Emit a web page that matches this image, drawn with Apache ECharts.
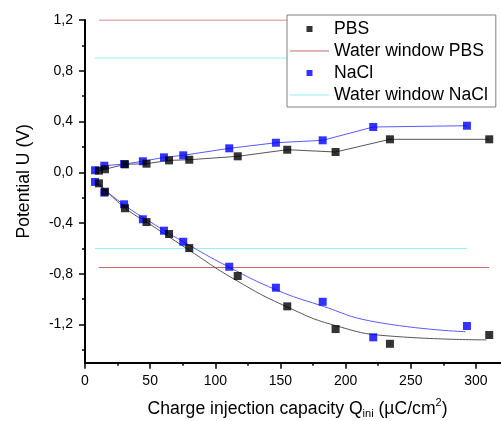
<!DOCTYPE html>
<html><head><meta charset="utf-8">
<script src="https://cdn.jsdelivr.net/npm/echarts@6/dist/echarts.min.js"></script>
<style>html,body{margin:0;padding:0;background:#fff}#c{width:501px;height:421px}</style>
</head><body><div id="c"></div>
<script>
// Measured data (charge injection capacity Q in µC/cm², potential U in V)
const pbsQ = [10.7, 15.3, 30.7, 47.2, 64.5, 80.0, 117.2, 155.2, 192.3, 234.0, 310.2];
const pbsU_anodic = [0.013, 0.024, 0.063, 0.068, 0.094, 0.099, 0.126, 0.178, 0.160, 0.260, 0.260];
const pbsU_cathodic = [-0.087, -0.153, -0.283, -0.392, -0.486, -0.597, -0.817, -1.056, -1.235, -1.351, -1.282];
const naclQ = [7.7, 14.8, 30.0, 44.4, 60.6, 75.4, 110.7, 146.5, 182.4, 221.2, 293.1];
const naclU_anodic = [0.016, 0.052, 0.065, 0.087, 0.118, 0.134, 0.189, 0.233, 0.252, 0.357, 0.367];
const naclU_cathodic = [-0.076, -0.160, -0.252, -0.370, -0.460, -0.547, -0.744, -0.909, -1.020, -1.300, -1.211];
// B-spline curves through the cathodic branches
const pbsFitQ = [10.7, 30.7, 50, 78, 115, 155, 193, 234, 308];
const pbsFitU = [-0.087, -0.28, -0.41, -0.60, -0.845, -1.06, -1.21, -1.29, -1.32];
const naclFitQ = [7.7, 29.4, 50, 75.4, 110, 147, 180, 222, 292];
const naclFitU = [-0.076, -0.252, -0.39, -0.547, -0.744, -0.927, -1.046, -1.177, -1.256];
// Water window limits (V)
const waterWindowPBS = [1.2, -0.75];
const waterWindowNaCl = [0.9, -0.6];
// Axis ticks
const xMajorTicks = [0, 50, 100, 150, 200, 250, 300];
const xMinorTicks = [25, 75, 125, 175, 225, 275];
const yMajorTicks = [-1.2, -0.8, -0.4, 0, 0.4, 0.8, 1.2];
const yMinorTicks = [-1.4, -1.0, -0.6, -0.2, 0.2, 0.6, 1.0];

const zip = (xs, ys) => xs.map((x, i) => [x, ys[i]]);
const FONT = 'Liberation Sans, Arial, sans-serif';
const pbsColor = '#000000', naclColor = '#0000ff';
const pbsLine = '#555555', naclLine = '#5a5aff';
const wwPBSColor = '#c86868', wwNaClColor = '#90f4f4';

const sq = 'path://M0,0 L10,0 L10,10 L0,10 Z';
const ln = 'path://M0,0 L39,0 L39,1 L0,1 Z';

function hline(name, y, x0, x1, color) {
  return { type: 'line', name: name, data: [[x0, y], [x1, y]], symbol: 'none',
    lineStyle: { color: color, width: 1 }, itemStyle: { color: color }, z: 1 };
}
const pbsMin = Math.min(...pbsQ), pbsMax = Math.max(...pbsQ);
const naclMin = Math.min(...naclQ), naclMax = Math.max(...naclQ);

const axisLineStyle = { color: '#000', width: 2 };
const option = {
  animation: false,
  backgroundColor: '#fff',
  grid: { left: 85, top: 20, width: 417, height: 342.7, containLabel: false, outerBoundsMode: 'none' },
  legend: {
    orient: 'vertical', left: 287, top: 15,
    data: [
      { name: 'PBS', icon: sq },
      { name: 'Water window PBS', icon: ln },
      { name: 'NaCl', icon: sq },
      { name: 'Water window NaCl', icon: ln }
    ],
    itemWidth: 39, itemHeight: 6, itemGap: 2, symbolKeepAspect: true,
    padding: [4, 8, 2, 3],
    borderColor: '#808080', borderWidth: 1, backgroundColor: '#fff',
    textStyle: { fontFamily: FONT, fontSize: 17.6, color: '#000', lineHeight: 20 },
    selectedMode: false
  },
  xAxis: [{
    type: 'value', min: 0, max: 320, position: 'bottom',
    axisLine: { onZero: false, lineStyle: axisLineStyle },
    axisTick: { customValues: xMajorTicks, length: 6, lineStyle: { color: '#000', width: 1.5 } },
    axisLabel: { customValues: xMajorTicks, margin: 11, fontFamily: FONT, fontSize: 14, color: '#000' },
    splitLine: { show: false },
    name: 'Charge injection capacity Q{sub|ini} (µC/cm{sup|2})',
    nameLocation: 'middle', nameGap: 35,
    nameTextStyle: {
      fontFamily: FONT, fontSize: 17.6, color: '#000', lineHeight: 22, padding: [0, 0, 0, 8],
      rich: {
        sub: { fontFamily: FONT, fontSize: 11, color: '#000', verticalAlign: 'bottom', lineHeight: 22 },
        sup: { fontFamily: FONT, fontSize: 11, color: '#000', verticalAlign: 'top', lineHeight: 22 }
      }
    }
  }, {
    type: 'value', min: 0, max: 320, position: 'bottom',
    axisLine: { show: false, onZero: false },
    axisTick: { customValues: xMinorTicks, length: 3, lineStyle: { color: '#000', width: 1.5 } },
    axisLabel: { show: false },
    splitLine: { show: false }
  }],
  yAxis: [{
    type: 'value', min: -1.5, max: 1.2, position: 'left',
    axisLine: { show: true, onZero: false, lineStyle: axisLineStyle },
    axisTick: { show: true, customValues: yMajorTicks, length: 6, lineStyle: { color: '#000', width: 1.5 } },
    axisLabel: { customValues: yMajorTicks, margin: 12, fontFamily: FONT, fontSize: 14, color: '#000',
      formatter: v => v.toFixed(1).replace('.', ',') },
    splitLine: { show: false },
    name: 'Potential U (V)', nameLocation: 'middle', nameGap: 52, nameRotate: 90,
    nameTextStyle: { fontFamily: FONT, fontSize: 17.6, color: '#000', padding: [0, 0, 0, 20] }
  }, {
    type: 'value', min: -1.5, max: 1.2, position: 'left',
    axisLine: { show: false, onZero: false },
    axisTick: { show: true, customValues: yMinorTicks, length: 3, lineStyle: { color: '#000', width: 1.5 } },
    axisLabel: { show: false },
    splitLine: { show: false }
  }],
  series: [
    hline('Water window PBS', waterWindowPBS[0], pbsMin, pbsMax, wwPBSColor),
    hline('Water window PBS', waterWindowPBS[1], pbsMin, pbsMax, wwPBSColor),
    hline('Water window NaCl', waterWindowNaCl[0], naclMin, naclMax, wwNaClColor),
    hline('Water window NaCl', waterWindowNaCl[1], naclMin, naclMax, wwNaClColor),
    { type: 'line', name: 'NaCl anodic', data: zip(naclQ, naclU_anodic), symbol: 'none',
      lineStyle: { color: naclLine, width: 1 } },
    { type: 'line', name: 'NaCl cathodic fit', data: zip(naclFitQ, naclFitU), symbol: 'none',
      smooth: 0.5, lineStyle: { color: naclLine, width: 1 } },
    { type: 'line', name: 'PBS anodic', data: zip(pbsQ, pbsU_anodic), symbol: 'none',
      lineStyle: { color: pbsLine, width: 1 } },
    { type: 'line', name: 'PBS cathodic fit', data: zip(pbsFitQ, pbsFitU), symbol: 'none',
      smooth: 0.5, lineStyle: { color: pbsLine, width: 1 } },
    { type: 'scatter', name: 'NaCl', data: zip(naclQ, naclU_anodic).concat(zip(naclQ, naclU_cathodic)),
      symbol: 'rect', symbolSize: 8, itemStyle: { color: naclColor }, z: 3 },
    { type: 'scatter', name: 'PBS', data: zip(pbsQ, pbsU_anodic).concat(zip(pbsQ, pbsU_cathodic)),
      symbol: 'rect', symbolSize: 8, itemStyle: { color: pbsColor }, z: 4 }
  ]
};
const chart = echarts.init(document.getElementById('c'), null, { renderer: 'canvas' });
chart.setOption(option);
</script></body></html>
